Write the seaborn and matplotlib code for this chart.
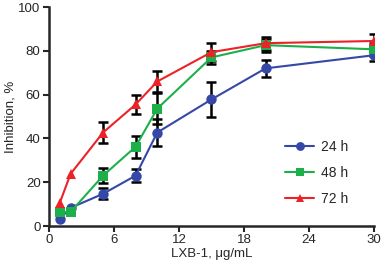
import matplotlib
matplotlib.use("Agg")
import matplotlib.pyplot as plt
import seaborn as sns
import pandas as pd
import numpy as np

conc = [1, 2, 5, 8, 10, 15, 20, 30]
inh_24 = [3.2, 8.3, 14.7, 23.0, 42.7, 57.8, 72.0, 78.0]
err_24 = [0, 0, 2.5, 3.0, 6.0, 8.0, 4.0, 2.5]
inh_48 = [6.4, 6.4, 23.0, 36.2, 53.6, 77.0, 82.6, 80.7]
err_48 = [0, 0, 3.5, 5.0, 7.0, 3.0, 3.0, 3.0]
inh_72 = [10.5, 23.8, 42.7, 55.5, 66.0, 79.4, 83.5, 84.5]
err_72 = [0, 0, 5.0, 4.5, 5.0, 4.0, 3.0, 3.0]
series = ["24 h", "48 h", "72 h"]
colors = ["#3548A8", "#1DB04A", "#EC2227"]
markers = ["o", "s", "^"]

rows = []
for name, vals, errs in zip(series, [inh_24, inh_48, inh_72], [err_24, err_48, err_72]):
    for c, v, e in zip(conc, vals, errs):
        rows.append({"conc": c, "inh": v, "err": e, "time": name})
df = pd.DataFrame(rows)

sns.set_style("ticks")
plt.rcParams['font.family'] = ['Liberation Sans', 'DejaVu Sans']

fig = plt.figure(figsize=(3.82, 2.71), dpi=100)
ax = fig.add_axes([0.128, 0.166, 0.851, 0.808])

for name in series:
    d = df[(df.time == name) & (df.err > 0)]
    ax.errorbar(d.conc, d.inh, yerr=d.err, fmt="none", ecolor="black",
                elinewidth=1.8, capsize=3.5, capthick=1.8, zorder=2)

sns.lineplot(data=df, x="conc", y="inh", hue="time", style="time",
             palette=colors, markers=markers, dashes=False, markersize=7.5,
             markeredgewidth=0, linewidth=1.5, ax=ax, zorder=3)

ax.set_xlim(0, 30)
ax.set_ylim(0, 100)
ax.set_xticks([0, 6, 12, 18, 24, 30])
ax.set_yticks([0, 20, 40, 60, 80, 100])
ax.set_xlabel("LXB-1, μg/mL", fontsize=9.5, labelpad=1)
ax.set_ylabel("Inhibition, %", fontsize=9.5, labelpad=1)
ax.tick_params(labelsize=9.5, width=1.5, length=4, pad=2)
for s in ["left", "bottom"]:
    ax.spines[s].set_linewidth(1.8)
sns.despine(ax=ax)

leg = ax.legend(loc="lower right", bbox_to_anchor=(0.96, 0.035), frameon=False,
                fontsize=10, handlelength=2.1, handletextpad=0.5,
                labelspacing=0.85, title=None, markerscale=0.85)

fig.savefig("out.png", dpi=100)
